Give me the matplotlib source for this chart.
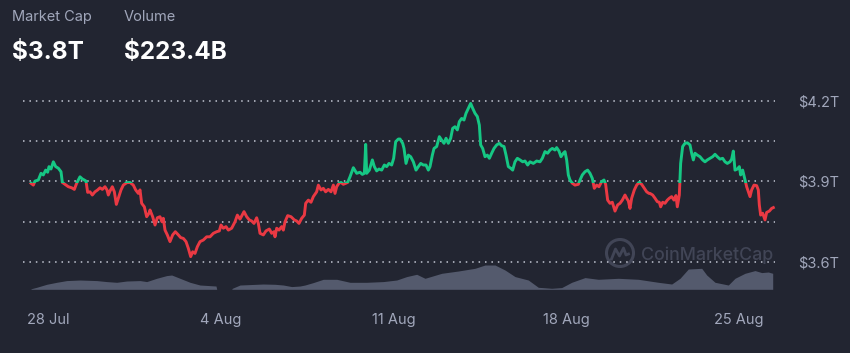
import matplotlib.pyplot as plt
from matplotlib.patches import Rectangle, Circle
from matplotlib.lines import Line2D

BG = "#222531"
GREEN = "#16c784"
RED = "#ea3943"
MUTED = "#a1a7bb"
VOL_COLOR = "#545a6d"
GRID_COLOR = "#c3c7d3"
MARK_COLOR = "#414556"

plt.rcParams["font.family"] = ["Inter", "DejaVu Sans"]

# days since 28 Jul 00:00 -> total market cap ($T)
cap_days = [
    -0.689, -0.594, -0.527, -0.392, -0.284, -0.189, -0.095, -0.014, 0.040, 0.121,
    0.216, 0.311, 0.419, 0.527, 0.581, 0.689, 0.824, 0.959, 1.067, 1.161,
    1.296, 1.391, 1.472, 1.540, 1.607, 1.702, 1.796, 1.904, 2.012, 2.107,
    2.201, 2.309, 2.390, 2.444, 2.512, 2.607, 2.688, 2.769, 2.850, 2.958,
    3.052, 3.187, 3.322, 3.457, 3.552, 3.660, 3.728, 3.795, 3.903, 3.998,
    4.092, 4.133, 4.241, 4.336, 4.430, 4.538, 4.619, 4.673, 4.741, 4.835,
    4.943, 5.051, 5.159, 5.281, 5.376, 5.484, 5.592, 5.686, 5.781, 5.862,
    5.956, 6.051, 6.159, 6.294, 6.429, 6.564, 6.699, 6.834, 6.942, 7.010,
    7.104, 7.212, 7.307, 7.442, 7.577, 7.672, 7.780, 7.942, 8.050, 8.158,
    8.252, 8.347, 8.455, 8.522, 8.590, 8.725, 8.833, 8.968, 9.063, 9.157,
    9.198, 9.266, 9.360, 9.468, 9.536, 9.603, 9.711, 9.846, 9.981, 10.076,
    10.170, 10.278, 10.386, 10.441, 10.549, 10.657, 10.751, 10.886, 10.954, 11.062,
    11.156, 11.251, 11.359, 11.467, 11.562, 11.629, 11.697, 11.791, 11.872, 11.967,
    12.061, 12.142, 12.237, 12.372, 12.507, 12.642, 12.737, 12.818, 12.872, 12.912,
    13.020, 13.142, 13.223, 13.317, 13.412, 13.520, 13.628, 13.722, 13.817, 13.925,
    14.006, 14.087, 14.195, 14.263, 14.371, 14.425, 14.506, 14.601, 14.695, 14.803,
    14.911, 15.006, 15.100, 15.208, 15.316, 15.411, 15.479, 15.573, 15.641, 15.749,
    15.857, 15.951, 16.046, 16.127, 16.221, 16.316, 16.397, 16.491, 16.586, 16.667,
    16.761, 16.856, 16.937, 17.032, 17.126, 17.207, 17.302, 17.396, 17.477, 17.531,
    17.612, 17.707, 17.802, 17.883, 17.977, 18.072, 18.180, 18.288, 18.382, 18.477,
    18.558, 18.652, 18.747, 18.828, 18.922, 19.017, 19.125, 19.233, 19.328, 19.435,
    19.530, 19.665, 19.800, 19.935, 20.029, 20.137, 20.245, 20.340, 20.434, 20.542,
    20.610, 20.705, 20.786, 20.880, 20.948, 21.015, 21.083, 21.150, 21.245, 21.353,
    21.488, 21.556, 21.650, 21.758, 21.866, 21.961, 22.055, 22.136, 22.231, 22.325,
    22.433, 22.528, 22.595, 22.676, 22.771, 22.865, 22.974, 23.082, 23.176, 23.271,
    23.379, 23.446, 23.514, 23.581, 23.649, 23.757, 23.852, 23.946, 24.054, 24.162,
    24.257, 24.351, 24.392, 24.500, 24.595, 24.689, 24.770, 24.824, 24.905, 25.000,
    25.094, 25.175, 25.270, 25.364, 25.445, 25.499, 25.580, 25.634, 25.715, 25.810,
    25.905, 26.013, 26.080, 26.148, 26.215, 26.310, 26.418, 26.526, 26.620, 26.715,
    26.823, 26.931, 27.026, 27.120, 27.228, 27.336, 27.431, 27.525, 27.633, 27.701,
    27.768, 27.836, 27.931, 28.011, 28.065, 28.147, 28.241, 28.309, 28.376, 28.444,
    28.511, 28.606, 28.714, 28.781, 28.822, 28.876, 28.957, 29.052, 29.119, 29.227,
    29.321, 29.389,
]
cap_values = [
    3.893, 3.886, 3.901, 3.905, 3.930, 3.924, 3.942, 3.934, 3.955, 3.946,
    3.973, 3.955, 3.949, 3.936, 3.896, 3.889, 3.880, 3.876, 3.870, 3.893,
    3.917, 3.909, 3.905, 3.901, 3.859, 3.861, 3.849, 3.861, 3.868, 3.876,
    3.870, 3.880, 3.868, 3.849, 3.864, 3.880, 3.861, 3.814, 3.837, 3.868,
    3.886, 3.895, 3.896, 3.886, 3.868, 3.855, 3.868, 3.818, 3.805, 3.768,
    3.781, 3.793, 3.768, 3.737, 3.764, 3.768, 3.749, 3.762, 3.718, 3.700,
    3.675, 3.700, 3.712, 3.700, 3.690, 3.687, 3.675, 3.650, 3.619, 3.637,
    3.631, 3.656, 3.675, 3.681, 3.693, 3.693, 3.706, 3.712, 3.715, 3.737,
    3.725, 3.731, 3.718, 3.725, 3.749, 3.774, 3.759, 3.787, 3.768, 3.756,
    3.752, 3.743, 3.764, 3.743, 3.706, 3.700, 3.715, 3.722, 3.706, 3.712,
    3.693, 3.725, 3.718, 3.731, 3.718, 3.749, 3.772, 3.768, 3.756, 3.752,
    3.743, 3.762, 3.774, 3.818, 3.830, 3.822, 3.843, 3.861, 3.886, 3.868,
    3.874, 3.861, 3.870, 3.861, 3.886, 3.855, 3.880, 3.893, 3.896, 3.889,
    3.893, 3.896, 3.917, 3.951, 3.930, 3.934, 3.926, 3.930, 4.038, 3.930,
    3.942, 3.980, 3.955, 3.939, 3.946, 3.942, 3.961, 3.955, 3.967, 3.961,
    3.986, 4.048, 4.058, 4.058, 4.042, 4.023, 3.967, 3.998, 3.992, 3.973,
    3.942, 3.955, 3.967, 3.961, 3.961, 3.942, 3.955, 3.998, 4.023, 4.030,
    4.067, 4.054, 4.042, 4.061, 4.042, 4.061, 4.098, 4.104, 4.092, 4.123,
    4.135, 4.129, 4.154, 4.173, 4.191, 4.173, 4.154, 4.142, 4.110, 4.036,
    4.023, 3.992, 3.998, 3.986, 4.005, 4.023, 4.036, 4.042, 4.033, 4.030,
    3.998, 3.955, 3.949, 3.942, 3.973, 3.986, 3.980, 3.973, 3.976, 3.961,
    3.973, 3.967, 3.976, 3.973, 3.986, 4.011, 4.005, 4.017, 4.023, 4.017,
    4.026, 4.013, 3.992, 4.005, 4.011, 3.980, 3.924, 3.905, 3.893, 3.886,
    3.889, 3.905, 3.924, 3.936, 3.942, 3.930, 3.911, 3.874, 3.886, 3.880,
    3.899, 3.905, 3.889, 3.830, 3.818, 3.822, 3.789, 3.812, 3.818, 3.830,
    3.849, 3.837, 3.827, 3.799, 3.837, 3.868, 3.886, 3.896, 3.889, 3.874,
    3.861, 3.855, 3.855, 3.849, 3.837, 3.824, 3.822, 3.805, 3.822, 3.818,
    3.830, 3.837, 3.843, 3.830, 3.847, 3.805, 3.849, 3.967, 4.030, 4.042,
    4.044, 4.036, 4.005, 3.980, 4.005, 3.998, 3.992, 3.980, 3.973, 3.980,
    3.986, 3.992, 4.001, 3.992, 3.983, 3.986, 3.973, 3.967, 3.973, 3.983,
    4.013, 3.942, 3.946, 3.955, 3.924, 3.942, 3.905, 3.880, 3.861, 3.843,
    3.868, 3.886, 3.884, 3.868, 3.812, 3.774, 3.781, 3.756, 3.784, 3.789,
    3.799, 3.802,
]

# days since 28 Jul 00:00 -> 24h volume ($B)
vol_days = [
    -0.689, -0.458, -0.053, 0.353, 0.758, 1.297, 1.973, 2.378, 2.784, 3.189,
    3.728, 3.999, 4.404, 4.809, 5.012, 5.348, 5.754, 6.159, 6.807, 6.836,
    7.443, 7.468, 7.780, 8.724, 9.198, 9.534, 9.874, 10.211, 10.413, 10.750,
    11.155, 11.698, 12.237, 12.913, 13.586, 14.129, 14.534, 14.939, 15.276, 15.953,
    16.625, 17.301, 17.707, 18.112, 18.517, 18.922, 19.461, 19.866, 20.409, 20.814,
    21.220, 21.759, 22.298, 23.108, 23.918, 24.729, 25.272, 25.608, 25.944, 26.487,
    26.690, 27.026, 27.565, 27.836, 28.241, 28.647, 28.918, 29.185, 29.364,
]
vol_values = [
    7, 28, 70, 98, 122, 130, 122, 108, 98, 116,
    122, 108, 154, 192, 200, 154, 98, 60, 46, 0,
    0, 14, 60, 74, 70, 60, 38, 46, 60, 94,
    140, 140, 98, 98, 108, 130, 178, 210, 154, 224,
    256, 294, 340, 340, 270, 178, 130, 28, 14, 24,
    98, 164, 140, 154, 140, 98, 74, 154, 284, 294,
    200, 98, 60, 154, 224, 262, 234, 242, 224,
]

open_value = 3.895
grid_levels = [3.6, 3.75, 3.9, 4.05, 4.2]
y_ticks = [3.6, 3.9, 4.2]
y_labels = ["$3.6T", "$3.9T", "$4.2T"]
x_ticks = [0, 7, 14, 21, 28]
x_labels = ["28 Jul", "4 Aug", "11 Aug", "18 Aug", "25 Aug"]

W, H = 850, 353
fig = plt.figure(figsize=(W / 100, H / 100), dpi=100, facecolor=BG)

# watermark (behind everything)
cx, cy = 6.2, (H - 253) / 100
fig.add_artist(Circle((cx, cy), 0.135, transform=fig.dpi_scale_trans,
                      fill=False, lw=2.2, ec=MARK_COLOR, zorder=-5))
fig.add_artist(Line2D([cx - 0.085, cx - 0.045, cx - 0.005, cx + 0.035, cx + 0.06, cx + 0.085],
                      [cy - 0.06, cy + 0.04, cy - 0.03, cy + 0.05, cy - 0.02, cy - 0.01],
                      transform=fig.dpi_scale_trans, color=MARK_COLOR, lw=2.0,
                      solid_joinstyle="round", zorder=-5))
fig.text(641 / W, 1 - 255 / H, "CoinMarketCap", fontsize=12.8, color=MARK_COLOR,
         fontweight="medium", va="center", ha="left", zorder=-5)

rect = [23 / W, 1 - 289.3 / H, 752 / W, 194.3 / H]
ax_vol = fig.add_axes(rect)
ax = fig.add_axes(rect, sharex=ax_vol)
ax.patch.set_visible(False)
ax_vol.patch.set_visible(False)

# volume area
ax_vol.fill_between(vol_days, vol_values, 0, color=VOL_COLOR, lw=0)
ax_vol.set_ylim(0, 194.3 * 14)
ax_vol.set_yticks([])
ax_vol.tick_params(axis="x", length=0, labelbottom=False)
for s in ax_vol.spines.values():
    s.set_visible(False)

# dotted guide lines
for lv in grid_levels:
    ax.axhline(lv, color=GRID_COLOR, lw=1.1, ls=(0, (1, 3.2)), zorder=1)

# price line: green above the open, red below
xmin, xmax = -1.013, 29.457
ymin, ymax = 3.497, 4.2224
for color, (lo, hi) in [(GREEN, (open_value, 10)), (RED, (0, open_value))]:
    (ln,) = ax.plot(cap_days, cap_values, color=color, lw=2.1,
                    solid_joinstyle="round", zorder=3)
    clip = Rectangle((xmin - 5, lo), xmax - xmin + 10, hi - lo,
                     transform=ax.transData)
    ln.set_clip_path(clip)

ax.set_xlim(xmin, xmax)
ax.set_ylim(ymin, ymax)
ax.yaxis.tick_right()
ax.set_yticks(y_ticks, y_labels)
ax.set_xticks(x_ticks, x_labels)
ax.tick_params(axis="y", length=0, pad=16.5, labelsize=10.5, colors=MUTED)
ax.tick_params(axis="x", length=0, pad=17, labelsize=10.5, colors=MUTED)
for s in ax.spines.values():
    s.set_visible(False)

# header
fig.text(12 / W, 1 - 21.3 / H, "Market Cap", fontsize=10.5, color=MUTED, va="baseline")
fig.text(124 / W, 1 - 21.3 / H, "Volume", fontsize=10.5, color=MUTED, va="baseline")
fig.text(12 / W, 1 - 59.3 / H, "$3.8T", fontsize=17.5, color="white",
         fontweight="bold", va="baseline")
fig.text(124 / W, 1 - 59.3 / H, "$223.4B", fontsize=17.5, color="white",
         fontweight="bold", va="baseline")

fig.savefig("out.png", dpi=100, facecolor=BG)
